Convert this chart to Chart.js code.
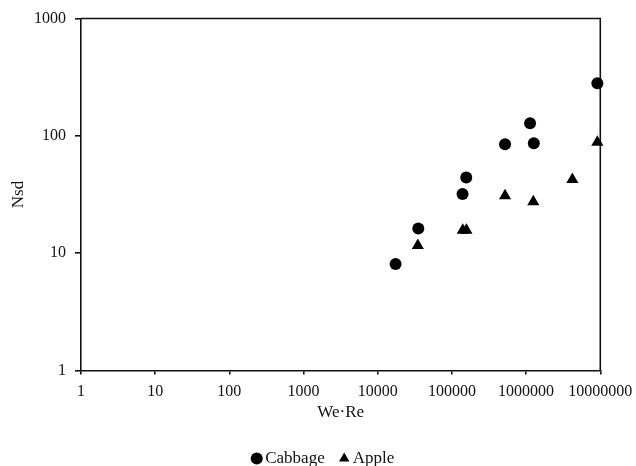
<!DOCTYPE html>
<html>
<head>
<meta charset="utf-8">
<script src="https://cdn.jsdelivr.net/npm/chart.js@4/dist/chart.umd.min.js"></script>
<style>
html,body{margin:0;padding:0;background:#fff;}
#wrap{width:636px;height:466px;position:relative;}
</style>
</head>
<body>
<div id="wrap"><canvas id="c" width="636" height="466"></canvas></div>
<script>
// Data
const seriesNames = ['Cabbage', 'Apple'];
const cabbageX = [17400, 35200, 139000, 156000, 520000, 1130000, 1270000, 9120000];
const cabbageY = [8.1, 16.2, 32.0, 44.2, 84.8, 128, 86.5, 281];
const appleX = [34700, 140000, 157000, 520000, 1250000, 4200000, 9120000];
const appleY = [11.65, 15.7, 15.7, 30.9, 27.4, 42.5, 88];
const xTickValues = [1, 10, 100, 1000, 10000, 100000, 1000000, 10000000];
const xTickLabels = ['1', '10', '100', '1000', '10000', '100000', '1000000', '10000000'];
const yTickValues = [1, 10, 100, 1000];
const yTickLabels = ['1', '10', '100', '1000'];
const xTitle = 'We·Re';
const yTitle = 'Nsd';

const toPts = (xs, ys) => xs.map((x, i) => ({x: x, y: ys[i]}));
const FONT = 'Liberation Serif';
const INK = '#111';

const framePlugin = {
  id: 'frame',
  beforeDatasetsDraw(chart) {
    const a = chart.chartArea, ctx = chart.ctx;
    ctx.save();
    ctx.strokeStyle = INK;
    ctx.lineWidth = 1.6;
    ctx.beginPath();
    ctx.moveTo(a.left, a.top);
    ctx.lineTo(a.right, a.top);
    ctx.lineTo(a.right, a.bottom);
    ctx.stroke();
    ctx.restore();
  }
};

new Chart(document.getElementById('c'), {
  type: 'scatter',
  data: {
    datasets: [
      {label: seriesNames[0], data: toPts(cabbageX, cabbageY), pointStyle: 'circle', pointRadius: 6, pointHoverRadius: 6,
       backgroundColor: '#000', borderColor: '#000', borderWidth: 0, clip: false},
      {label: seriesNames[1], data: toPts(appleX, appleY), pointStyle: 'triangle', pointRadius: 7, pointHoverRadius: 7,
       backgroundColor: '#000', borderColor: '#000', borderWidth: 0, clip: false}
    ]
  },
  options: {
    responsive: false,
    animation: false,
    devicePixelRatio: 1,
    layout: {padding: {left: 0, right: -15, top: 18.5, bottom: -11}},
    plugins: {
      tooltip: {enabled: false},
      legend: {
        position: 'bottom',
        labels: {
          usePointStyle: true,
          boxHeight: 8.5,
          boxWidth: 0.01,
          padding: 19.5,
          color: INK,
          font: {family: FONT, size: 17}
        }
      }
    },
    scales: {
      x: {
        type: 'logarithmic',
        min: 1, max: 10000000,
        afterBuildTicks: s => { s.ticks = xTickValues.map(v => ({value: v})); },
        afterFit: s => { s.height = 60; s.paddingLeft = 0; s.paddingRight = 0; },
        ticks: {
          autoSkip: false, maxRotation: 0, minRotation: 0, padding: 7.5,
          color: INK, font: {family: FONT, size: 16},
          callback: (v, i) => xTickLabels[i]
        },
        grid: {drawOnChartArea: false, drawTicks: true, tickLength: 4, color: INK, lineWidth: 1.6},
        border: {display: true, color: INK, width: 1.6},
        title: {display: true, text: xTitle, color: INK, font: {family: FONT, size: 17}, padding: {top: 0, bottom: 7.5}}
      },
      y: {
        type: 'logarithmic',
        min: 1, max: 1000,
        afterBuildTicks: s => { s.ticks = yTickValues.map(v => ({value: v})); },
        afterFit: s => { s.width = 81; s.paddingTop = 0; s.paddingBottom = 0; },
        ticks: {
          autoSkip: false, padding: 9,
          color: INK, font: {family: FONT, size: 16},
          callback: (v, i) => yTickLabels[i]
        },
        grid: {drawOnChartArea: false, drawTicks: true, tickLength: 6, color: INK, lineWidth: 1.6},
        border: {display: true, color: INK, width: 1.6},
        title: {display: true, text: yTitle, color: INK, font: {family: FONT, size: 17}, padding: {top: 8, bottom: 0}}
      },
      spacer: {
        type: 'linear',
        position: 'right',
        display: true,
        afterFit: s => { s.width = 50.7; s.paddingTop = 0; s.paddingBottom = 0; },
        ticks: {display: false},
        grid: {display: false, drawTicks: false},
        border: {display: false},
        title: {display: false}
      }
    }
  },
  plugins: [framePlugin]
});
</script>
</body>
</html>
